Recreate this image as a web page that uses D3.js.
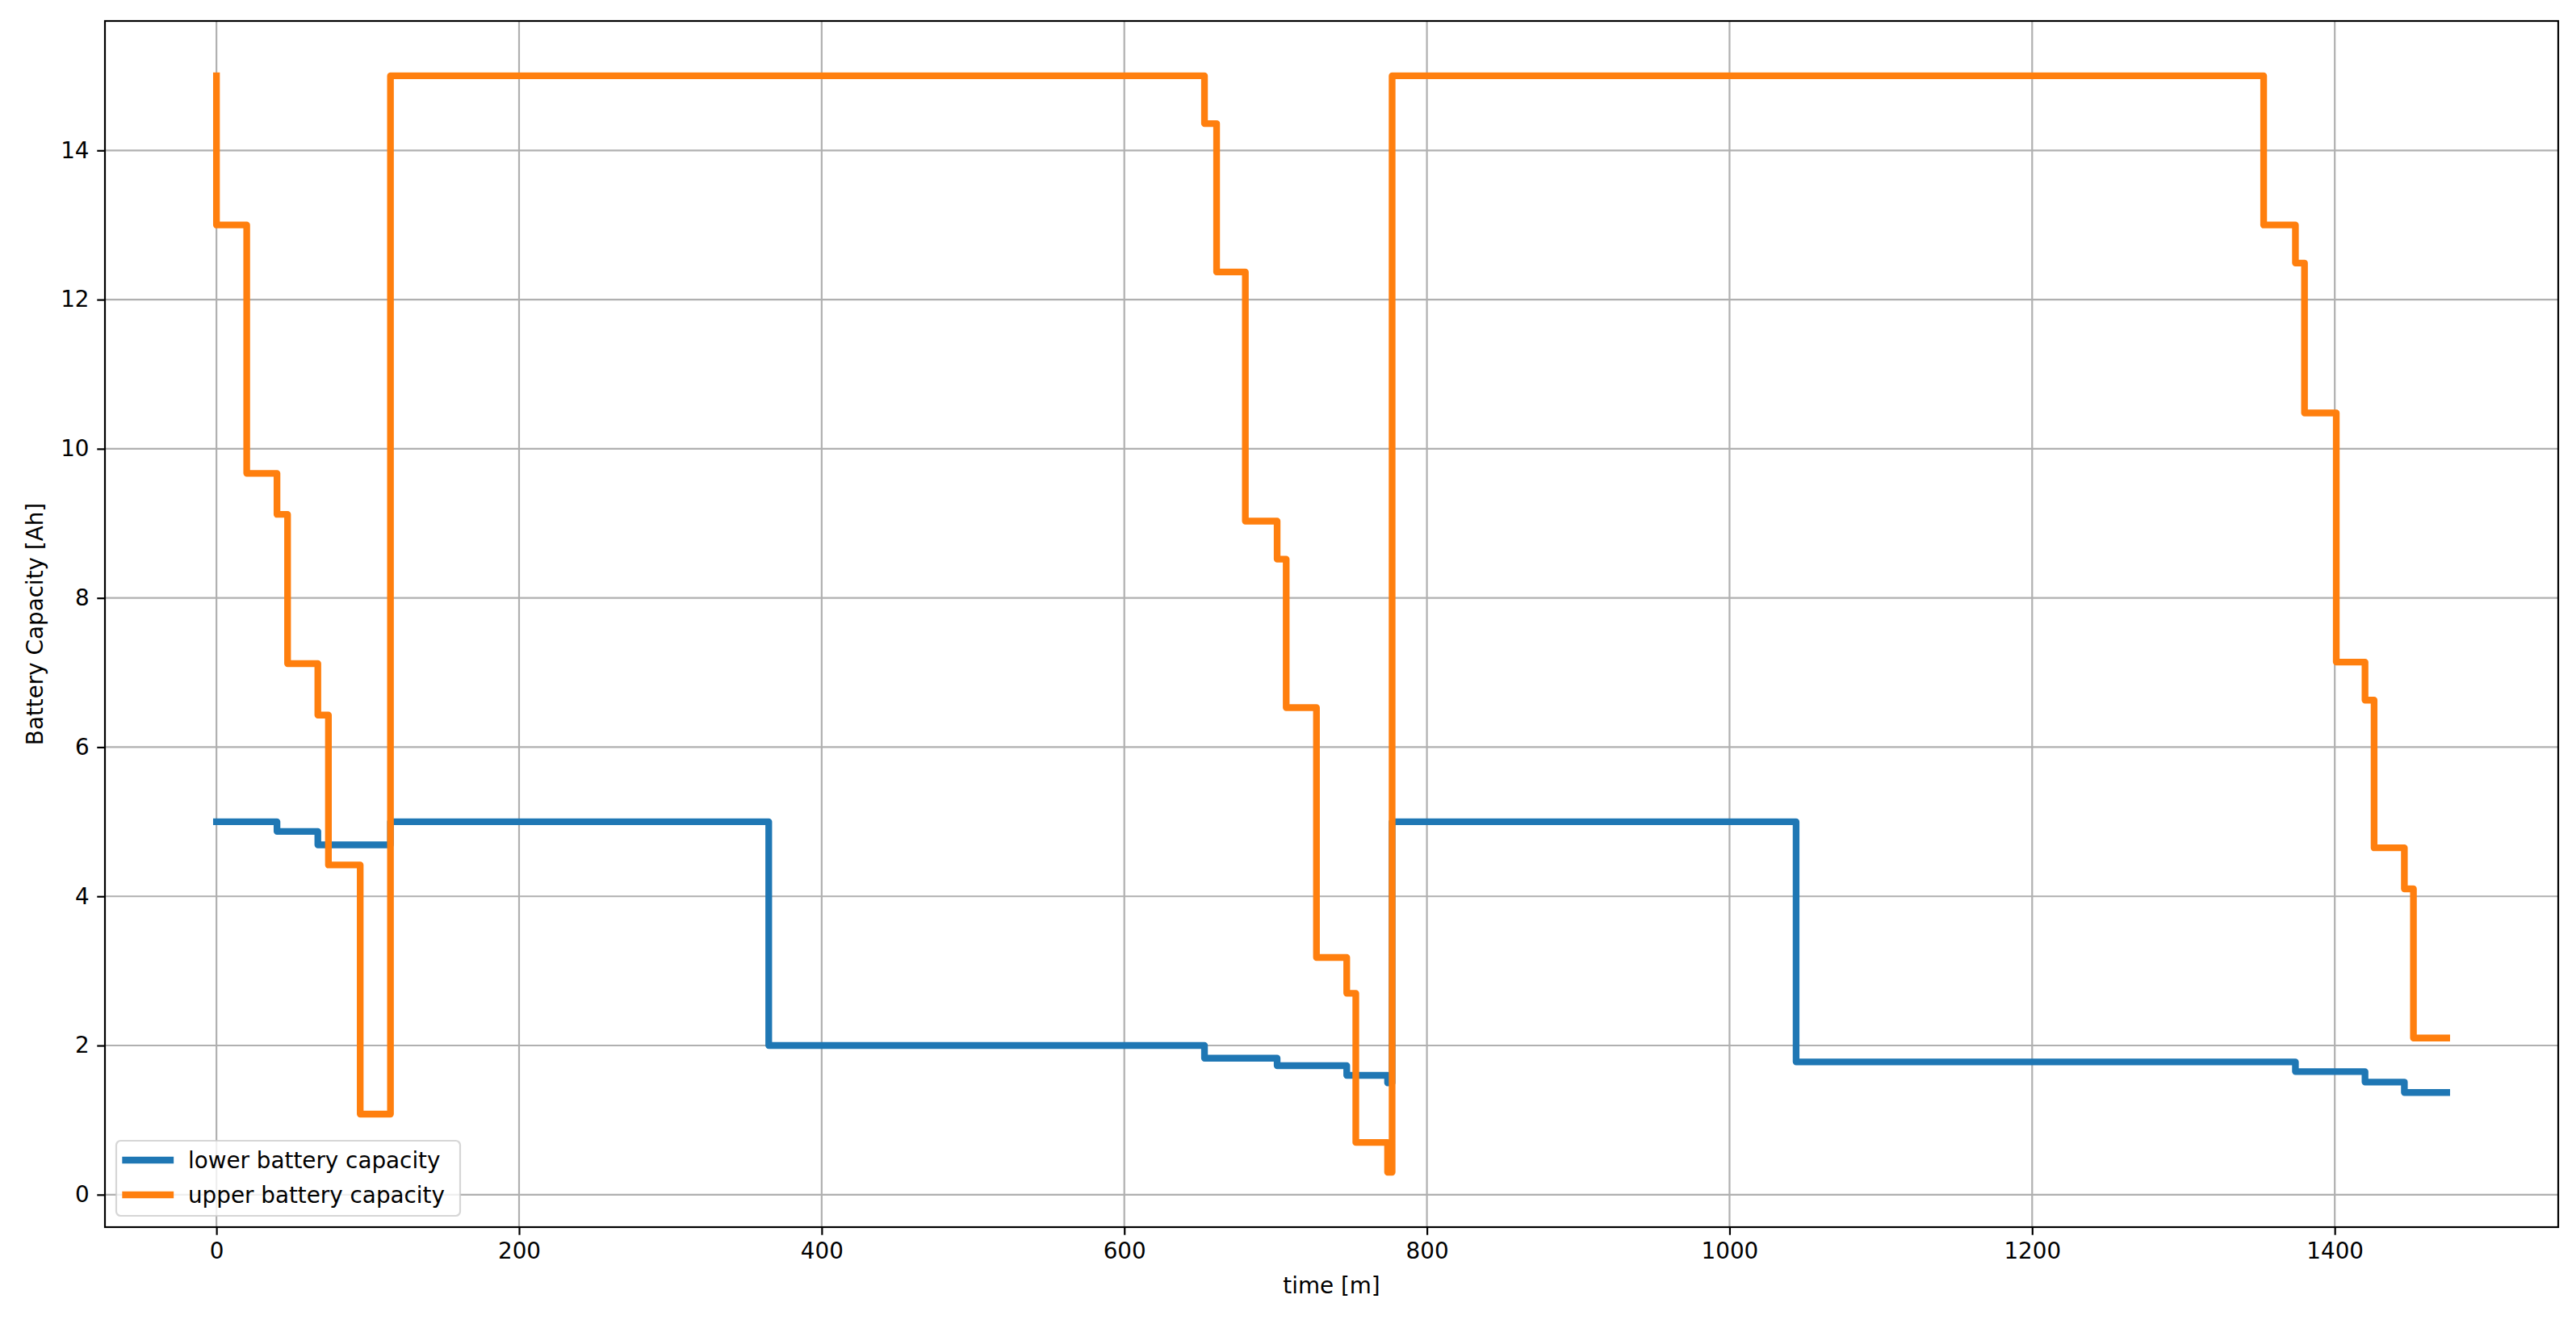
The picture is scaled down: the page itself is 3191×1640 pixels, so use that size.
<!DOCTYPE html>
<html>
<head>
<meta charset="utf-8">
<script src="https://cdn.jsdelivr.net/npm/d3@7"></script>
<style>
  html, body { margin: 0; padding: 0; background: #fff; }
  svg { display: block; }
  text { font-family: "DejaVu Sans", sans-serif; }
</style>
</head>
<body>
<svg id="chart" width="3191" height="1640"></svg>
<script>
// ---- data ----
const lowerTime  = [0, 40, 67, 115, 365, 653, 701, 747, 774, 777, 1044, 1374, 1420, 1446, 1474];
const lowerValue = [5.0, 4.87, 4.69, 5.0, 2.0, 1.83, 1.73, 1.6, 1.5, 5.0, 1.78, 1.65, 1.51, 1.37, 1.37];

const upperTime  = [0, 0, 20, 40, 47, 67, 74, 95, 115, 653, 661, 680, 701, 707, 727, 747, 753, 774, 777, 1353, 1374, 1380, 1401, 1420, 1426, 1446, 1452, 1474];
const upperValue = [15, 13, 9.67, 9.12, 7.12, 6.43, 4.42, 1.08, 15, 14.36, 12.37, 9.03, 8.52, 6.53, 3.18, 2.7, 0.7, 0.3, 15, 13.0, 12.49, 10.48, 7.14, 6.63, 4.65, 4.1, 2.1, 2.1];

const xTicks = [0, 200, 400, 600, 800, 1000, 1200, 1400];
const yTicks = [0, 2, 4, 6, 8, 10, 12, 14];

const seriesNames = ["lower battery capacity", "upper battery capacity"];
const seriesColors = ["#1f77b4", "#ff7f0e"];

// ---- layout ----
const svg = d3.select("#chart");
const W = 3191, H = 1640;
const m = {left: 130, right: 3169, top: 26, bottom: 1520};
const fs = 27.8;           // 10pt at 200dpi
const lw = 8.33;           // 3pt
const thin = 2.2;          // 0.8pt
const tickLen = 9.72;

svg.append("rect").attr("width", W).attr("height", H).attr("fill", "#fff");

const lower = lowerTime.map((t, i) => ({t, v: lowerValue[i]}));
const upper = upperTime.map((t, i) => ({t, v: upperValue[i]}));
const all = lower.concat(upper);

const xExt = d3.extent(all, d => d.t);
const yExt = d3.extent(all, d => d.v);
const xPad = (xExt[1] - xExt[0]) * 0.05;
const yPad = (yExt[1] - yExt[0]) * 0.05;

const x = d3.scaleLinear().domain([xExt[0] - xPad, xExt[1] + xPad]).range([m.left, m.right]);
const y = d3.scaleLinear().domain([yExt[0] - yPad, yExt[1] + yPad]).range([m.bottom, m.top]);

// grid
const grid = svg.append("g");
grid.selectAll("line.vx").data(xTicks).join("line")
  .attr("x1", d => x(d)).attr("x2", d => x(d))
  .attr("y1", m.top).attr("y2", m.bottom)
  .attr("stroke", "#b0b0b0").attr("stroke-width", thin);
grid.selectAll("line.hy").data(yTicks).join("line")
  .attr("x1", m.left).attr("x2", m.right)
  .attr("y1", d => y(d)).attr("y2", d => y(d))
  .attr("stroke", "#b0b0b0").attr("stroke-width", thin);

// lines
svg.append("clipPath").attr("id", "clip").append("rect")
  .attr("x", m.left).attr("y", m.top).attr("width", m.right - m.left).attr("height", m.bottom - m.top);

const line = d3.line().x(d => x(d.t)).y(d => y(d.v)).curve(d3.curveStepAfter);
[lower, upper].forEach((s, i) => {
  svg.append("path").datum(s)
    .attr("clip-path", "url(#clip)")
    .attr("d", line)
    .attr("fill", "none")
    .attr("stroke", seriesColors[i])
    .attr("stroke-width", lw)
    .attr("stroke-linejoin", "round")
    .attr("stroke-linecap", "square");
});

// axes
const xAxis = d3.axisBottom(x).tickValues(xTicks).tickSize(tickLen).tickPadding(tickLen).tickFormat(d3.format("d"));
const yAxis = d3.axisLeft(y).tickValues(yTicks).tickSize(tickLen).tickPadding(tickLen).tickFormat(d3.format("d"));

const gx = svg.append("g").attr("transform", `translate(0,${m.bottom})`).call(xAxis);
const gy = svg.append("g").attr("transform", `translate(${m.left},0)`).call(yAxis);
[gx, gy].forEach(g => {
  g.select(".domain").remove();
  g.selectAll(".tick line").attr("stroke", "#000").attr("stroke-width", thin);
  g.selectAll(".tick text").attr("font-size", fs).attr("fill", "#000")
    .attr("font-family", "DejaVu Sans");
});

// frame
svg.append("rect")
  .attr("x", m.left).attr("y", m.top)
  .attr("width", m.right - m.left).attr("height", m.bottom - m.top)
  .attr("fill", "none").attr("stroke", "#000").attr("stroke-width", thin);

// axis labels
svg.append("text")
  .attr("x", (m.left + m.right) / 2).attr("y", 1602)
  .attr("text-anchor", "middle").attr("font-size", fs).attr("fill", "#000")
  .text("time [m]");
svg.append("text")
  .attr("transform", `translate(53,${(m.top + m.bottom) / 2}) rotate(-90)`)
  .attr("text-anchor", "middle").attr("font-size", fs).attr("fill", "#000")
  .text("Battery Capacity [Ah]");

// legend
const lg = svg.append("g");
lg.append("rect")
  .attr("x", 144).attr("y", 1413).attr("width", 426).attr("height", 93)
  .attr("rx", 5.5).attr("ry", 5.5)
  .attr("fill", "#fff").attr("fill-opacity", 0.8)
  .attr("stroke", "#cccccc").attr("stroke-opacity", 0.8).attr("stroke-width", thin);
const rows = [1437, 1480];
seriesNames.forEach((name, i) => {
  lg.append("line")
    .attr("x1", 155.5).attr("x2", 211).attr("y1", rows[i]).attr("y2", rows[i])
    .attr("stroke", seriesColors[i]).attr("stroke-width", lw).attr("stroke-linecap", "square");
  lg.append("text")
    .attr("x", 233).attr("y", rows[i]).attr("dy", "0.36em")
    .attr("font-size", fs).attr("fill", "#000")
    .text(name);
});
</script>
</body>
</html>
